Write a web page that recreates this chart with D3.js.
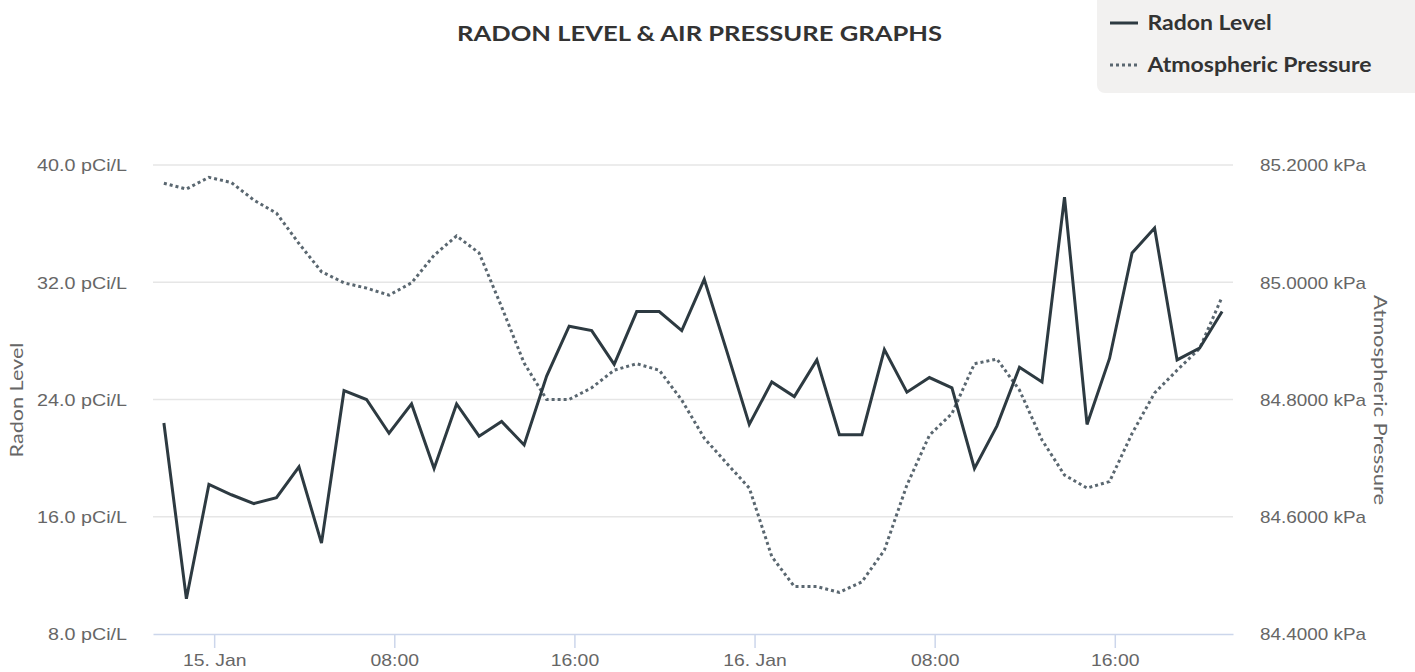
<!DOCTYPE html>
<html>
<head>
<meta charset="utf-8">
<script src="https://cdn.jsdelivr.net/npm/d3@7"></script>
<style>
  body { margin: 0; background: #fff; }
  svg { display: block; font-family: Lato, "Open Sans", sans-serif; }
</style>
</head>
<body>
<script>
// hourly readings, first one at 21:46 on 14 Jan
var startTime = new Date(2021, 0, 14, 21, 46);
var radon = [22.4, 10.4, 18.2, 17.5, 16.9, 17.3, 19.4, 14.2, 24.6, 24.0, 21.7, 23.7,
             19.3, 23.7, 21.5, 22.5, 20.9, 25.6, 29.0, 28.7, 26.4, 30.0, 30.0, 28.7,
             32.2, 27.3, 22.3, 25.2, 24.2, 26.7, 21.6, 21.6, 27.4, 24.5, 25.5, 24.8,
             19.3, 22.2, 26.2, 25.2, 37.8, 22.3, 26.8, 34.0, 35.7, 26.7, 27.5, 30.0];
var pressure = [85.169, 85.159, 85.179, 85.170, 85.140, 85.118, 85.066, 85.018, 84.999, 84.990, 84.978, 84.999,
                85.046, 85.079, 85.050, 84.958, 84.862, 84.800, 84.800, 84.820, 84.850, 84.861, 84.850, 84.799,
                84.734, 84.691, 84.649, 84.532, 84.481, 84.481, 84.471, 84.489, 84.543, 84.654, 84.739, 84.776,
                84.861, 84.869, 84.816, 84.731, 84.671, 84.649, 84.660, 84.742, 84.811, 84.850, 84.887, 84.975];
var radonTicks = [8, 16, 24, 32, 40];
var pressureTicks = [84.4, 84.6, 84.8, 85.0, 85.2];
var xTicks = [new Date(2021, 0, 15, 0), new Date(2021, 0, 15, 8), new Date(2021, 0, 15, 16),
              new Date(2021, 0, 16, 0), new Date(2021, 0, 16, 8), new Date(2021, 0, 16, 16)];
var seriesNames = ["Radon Level", "Atmospheric Pressure"];

var width = 1415, height = 672;
var margin = {left: 153, top: 165, right: 182, bottom: 38};
var frame_w = width - margin.left - margin.right;
var frame_h = height - margin.top - margin.bottom;

// the original font is wider than Lato, so widen the glyphs a bit
function widen(sel, factor) {
  sel.each(function() {
    var w = this.getComputedTextLength();
    d3.select(this).attr("textLength", w * factor).attr("lengthAdjust", "spacingAndGlyphs");
  });
}

var data = radon.map(function(r, i) {
  return {t: d3.timeHour.offset(startTime, i), radon: r, pressure: pressure[i]};
});

var xScale = d3.scaleTime()
  .domain([d3.timeMinute.offset(data[0].t, -29), d3.timeMinute.offset(data[data.length - 1].t, 29)])
  .range([0, frame_w]);
var yLeft = d3.scaleLinear().domain([8, 40]).range([frame_h, 0]);
var yRight = d3.scaleLinear().domain([84.4, 85.2]).range([frame_h, 0]);

var svg = d3.select("body").append("svg").attr("width", width).attr("height", height);

svg.append("text")
  .attr("x", 699.5).attr("y", 41)
  .attr("text-anchor", "middle")
  .style("font-size", "21px").style("font-weight", "bold")
  .attr("fill", "#333333")
  .attr("textLength", 485).attr("lengthAdjust", "spacingAndGlyphs")
  .text("RADON LEVEL & AIR PRESSURE GRAPHS");

var g = svg.append("g").attr("transform", "translate(" + margin.left + "," + margin.top + ")");

// grid
g.append("g").selectAll("line").data(radonTicks.slice(1)).join("line")
  .attr("x1", 0).attr("x2", frame_w)
  .attr("y1", function(d) { return yLeft(d); }).attr("y2", function(d) { return yLeft(d); })
  .attr("stroke", "#e6e6e6").attr("stroke-width", 1.5);

// left axis
var yAxisL = d3.axisLeft(yLeft).tickValues(radonTicks).tickSize(0).tickPadding(26)
  .tickFormat(function(d) { return d3.format(".1f")(d) + " pCi/L"; });
var gl = g.append("g").call(yAxisL);
gl.select(".domain").remove();
gl.selectAll("text").attr("fill", "#666666").style("font-size", "17px").attr("dy", "0.34em").call(widen, 1.16);

// right axis
var yAxisR = d3.axisRight(yRight).tickValues(pressureTicks).tickSize(0).tickPadding(27)
  .tickFormat(function(d) { return d3.format(".4f")(d) + " kPa"; });
var gr = g.append("g").attr("transform", "translate(" + frame_w + ",0)").call(yAxisR);
gr.select(".domain").remove();
gr.selectAll("text").attr("fill", "#666666").style("font-size", "17px").attr("dy", "0.34em").call(widen, 1.11);

// x axis
var xAxis = d3.axisBottom(xScale).tickValues(xTicks).tickSizeInner(14).tickSizeOuter(0).tickPadding(6)
  .tickFormat(function(d) { return d.getHours() === 0 ? d3.timeFormat("%-d. %b")(d) : d3.timeFormat("%H:%M")(d); });
var gx = g.append("g").attr("transform", "translate(0," + frame_h + ")").call(xAxis);
gx.select(".domain").attr("stroke", "#ccd6eb").attr("stroke-width", 1.5);
gx.selectAll(".tick line").attr("stroke", "#ccd6eb").attr("stroke-width", 1.5);
gx.selectAll("text").attr("fill", "#666666").style("font-size", "17px").call(widen, 1.14);

// axis titles
g.append("text")
  .attr("transform", "translate(" + (17 - margin.left) + "," + (400 - margin.top) + ") rotate(-90)")
  .attr("text-anchor", "middle").attr("dy", "0.35em")
  .attr("fill", "#666666").style("font-size", "18px")
  .text("Radon Level").call(widen, 1.2);
g.append("text")
  .attr("transform", "translate(" + (1380 - margin.left) + "," + (400 - margin.top) + ") rotate(90)")
  .attr("text-anchor", "middle").attr("dy", "0.35em")
  .attr("fill", "#666666").style("font-size", "18px")
  .text("Atmospheric Pressure").call(widen, 1.22);

// lines
var radonLine = d3.line()
  .x(function(d) { return xScale(d.t); })
  .y(function(d) { return yLeft(d.radon); });
var pressureLine = d3.line()
  .x(function(d) { return xScale(d.t); })
  .y(function(d) { return yRight(d.pressure); });

g.append("path").attr("d", pressureLine(data))
  .attr("fill", "none").attr("stroke", "#5a6770").attr("stroke-width", 3)
  .attr("stroke-dasharray", "3,3");
g.append("path").attr("d", radonLine(data))
  .attr("fill", "none").attr("stroke", "#2d3a41").attr("stroke-width", 3)
  .attr("stroke-linejoin", "miter");

// legend
var leg = svg.append("g");
leg.append("rect").attr("x", 1097).attr("y", -10).attr("width", 330).attr("height", 103)
  .attr("rx", 8).attr("fill", "#f2f1f0");
var items = leg.selectAll("g.item").data(seriesNames).join("g")
  .attr("transform", function(d, i) { return "translate(1110," + (23 + i * 42) + ")"; });
items.append("line").attr("x1", 0).attr("x2", 28).attr("y1", 0).attr("y2", 0)
  .attr("stroke", function(d, i) { return i === 0 ? "#2d3a41" : "#5a6770"; })
  .attr("stroke-width", 3)
  .attr("stroke-dasharray", function(d, i) { return i === 0 ? null : "3,3"; });
items.append("text").attr("x", 37.5).attr("dy", "0.36em")
  .attr("fill", "#333333").style("font-size", "20px").style("font-weight", "bold")
  .text(function(d) { return d; }).call(widen, 1.15);
</script>
</body>
</html>
